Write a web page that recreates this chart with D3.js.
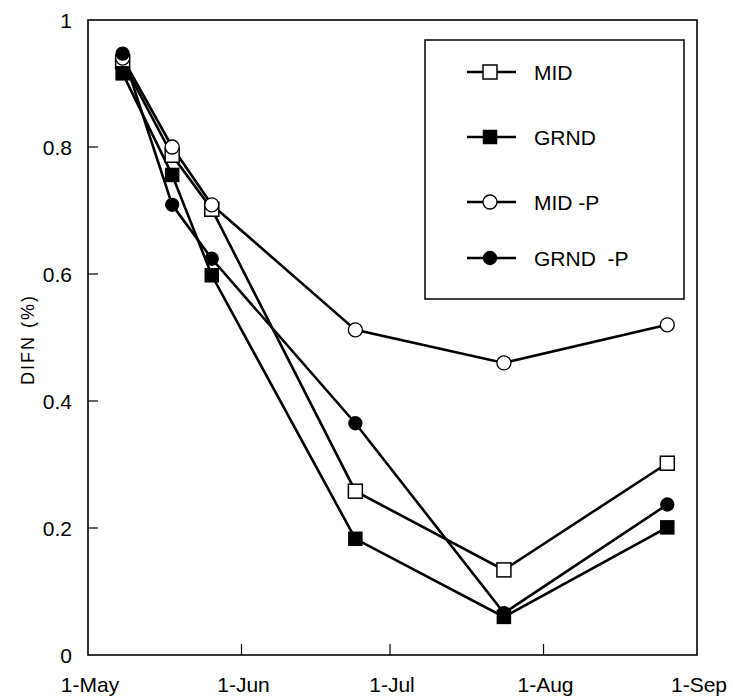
<!DOCTYPE html>
<html>
<head>
<meta charset="utf-8">
<script src="https://cdn.jsdelivr.net/npm/d3@7"></script>
<style>
  body { margin: 0; background: #fff; }
  text { font-family: "Liberation Sans", Arial, sans-serif; fill: #000; white-space: pre; }
</style>
</head>
<body>
<script>
// sampling dates and DIFN per treatment
var dates = ["1996-05-08", "1996-05-18", "1996-05-26", "1996-06-24", "1996-07-24", "1996-08-26"];
var mid   = [0.934, 0.787, 0.702, 0.258, 0.134, 0.302];
var grnd  = [0.916, 0.756, 0.598, 0.183, 0.060, 0.201];
var midP  = [0.940, 0.800, 0.709, 0.512, 0.460, 0.520];
var grndP = [0.947, 0.709, 0.624, 0.365, 0.066, 0.237];

var seriesNames = ["MID", "GRND", "MID -P", "GRND  -P"];
var xTickDates = ["1996-05-01", "1996-06-01", "1996-07-01", "1996-08-01", "1996-09-01"];
var xTickLabels = ["1-May", "1-Jun", "1-Jul", "1-Aug", "1-Sep"];
var yTicks = [0, 0.2, 0.4, 0.6, 0.8, 1];

var W = 733, H = 696;
var parse = d3.utcParse("%Y-%m-%d");

var x = d3.scaleUtc()
  .domain([parse("1996-05-01"), parse("1996-09-01")])
  .range([88, 697]);
var y = d3.scaleLinear().domain([0, 1]).range([655, 20]);

var svg = d3.select("body").append("svg")
  .attr("width", W).attr("height", H);

// frame
svg.append("rect")
  .attr("x", x.range()[0]).attr("y", y(1))
  .attr("width", x.range()[1] - x.range()[0])
  .attr("height", y(0) - y(1))
  .attr("fill", "none").attr("stroke", "#000").attr("stroke-width", 1.6);

// y ticks (inward)
svg.selectAll(".ytick").data(yTicks.slice(1, 5)).enter().append("line")
  .attr("x1", x.range()[0]).attr("x2", x.range()[0] + 10)
  .attr("y1", function(d){ return y(d); }).attr("y2", function(d){ return y(d); })
  .attr("stroke", "#000").attr("stroke-width", 1.2);
svg.selectAll(".ylab").data(yTicks).enter().append("text")
  .attr("x", 72).attr("y", function(d){ return y(d) + 8; })
  .attr("text-anchor", "end").attr("font-size", 21)
  .text(function(d){ return d === 0 || d === 1 ? d : d.toFixed(1); });

// x ticks (inward)
svg.selectAll(".xtick").data(xTickDates.slice(1, 4)).enter().append("line")
  .attr("x1", function(d){ return x(parse(d)); }).attr("x2", function(d){ return x(parse(d)); })
  .attr("y1", y(0)).attr("y2", y(0) - 11)
  .attr("stroke", "#000").attr("stroke-width", 1.2);
svg.selectAll(".xlab").data(xTickDates).enter().append("text")
  .attr("x", function(d){ return x(parse(d)) + 2; }).attr("y", 692)
  .attr("text-anchor", "middle").attr("font-size", 21)
  .text(function(d, i){ return xTickLabels[i]; });

// y axis title
svg.append("text")
  .attr("transform", "translate(34," + (y(0.5) + 2) + ") rotate(-90)")
  .attr("text-anchor", "middle").attr("font-size", 18)
  .attr("letter-spacing", 2)
  .text("DIFN (%)");

var series = [
  { name: seriesNames[0], values: mid,   shape: "square", filled: false },
  { name: seriesNames[1], values: grnd,  shape: "square", filled: true },
  { name: seriesNames[2], values: midP,  shape: "circle", filled: false },
  { name: seriesNames[3], values: grndP, shape: "circle", filled: true }
];

var line = d3.line()
  .x(function(d){ return x(parse(d.date)); })
  .y(function(d){ return y(d.v); });

function drawMarker(g, s, cx, cy) {
  if (s.shape === "square") {
    var h = s.filled ? 6.5 : 7;
    g.append("rect")
      .attr("x", cx - h).attr("y", cy - h).attr("width", 2 * h).attr("height", 2 * h)
      .attr("fill", s.filled ? "#000" : "#fff")
      .attr("stroke", "#000").attr("stroke-width", 1.5);
  } else {
    g.append("circle")
      .attr("cx", cx).attr("cy", cy).attr("r", s.filled ? 6.5 : 7)
      .attr("fill", s.filled ? "#000" : "#fff")
      .attr("stroke", "#000").attr("stroke-width", 1.3);
  }
}

series.forEach(function(s){
  var pts = s.values.map(function(v, i){ return { date: dates[i], v: v }; });
  svg.append("path")
    .attr("d", line(pts))
    .attr("fill", "none").attr("stroke", "#000").attr("stroke-width", 2.6);
});

series.forEach(function(s){
  var g = svg.append("g");
  s.values.forEach(function(v, i){
    drawMarker(g, s, x(parse(dates[i])), y(v));
  });
});

// legend
var lg = svg.append("g");
lg.append("rect")
  .attr("x", 425).attr("y", 40).attr("width", 259).attr("height", 259)
  .attr("fill", "#fff").attr("stroke", "#000").attr("stroke-width", 1.5);
var rowY = [72, 137, 202, 258];
series.forEach(function(s, i){
  lg.append("line")
    .attr("x1", 467).attr("x2", 516)
    .attr("y1", rowY[i]).attr("y2", rowY[i])
    .attr("stroke", "#000").attr("stroke-width", 2.6);
  drawMarker(lg, s, 490, rowY[i]);
  lg.append("text")
    .attr("x", 534).attr("y", rowY[i] + 7.5)
    .attr("font-size", 21)
    .text(s.name);
});
</script>
</body>
</html>
